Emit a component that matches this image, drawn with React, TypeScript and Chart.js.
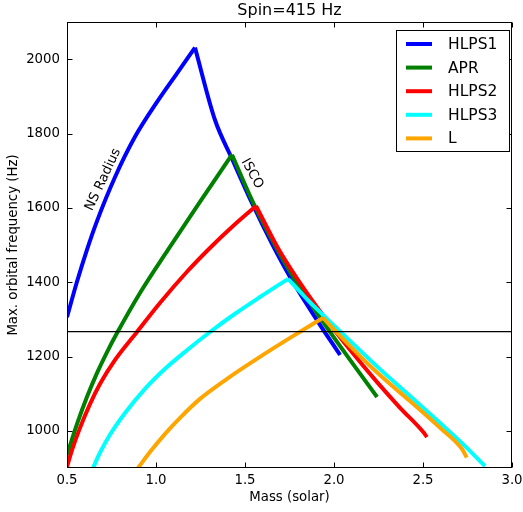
import React, { useEffect, useRef } from "react";
import { Chart, registerables } from "chart.js";

Chart.register(...registerables);

// ---- data ----
const title = "Spin=415 Hz";
const xLabel = "Mass (solar)";
const yLabel = "Max. orbital frequency (Hz)";
const xTicks = [0.5, 1.0, 1.5, 2.0, 2.5, 3.0];
const yTicks = [1000, 1200, 1400, 1600, 1800, 2000];
const refFreq = 1267;

const seriesNames = ["HLPS1", "APR", "HLPS2", "HLPS3", "L"];
const seriesColors = ["#0000ff", "#008000", "#ff0000", "#00ffff", "#ffa500"];

const hlps1Mass = [0.5, 0.556, 0.612, 0.669, 0.77, 0.882, 1.006, 1.118, 1.219, 1.331, 1.427, 1.539, 1.652, 1.753, 1.904, 2.034];
const hlps1Freq = [1306, 1401, 1487, 1565, 1683, 1791, 1885, 1962, 2031, 1837, 1732, 1613, 1503, 1414, 1298, 1204];

const aprMass = [0.5, 0.556, 0.612, 0.669, 0.725, 0.781, 0.91, 1.067, 1.247, 1.427, 1.539, 1.652, 1.753, 1.904, 2.09, 2.242];
const aprFreq = [935, 1018, 1091, 1156, 1212, 1263, 1371, 1487, 1616, 1743, 1621, 1514, 1428, 1317, 1191, 1091];

const hlps2Mass = [0.5, 0.528, 0.573, 0.629, 0.685, 0.77, 0.893, 1.022, 1.174, 1.303, 1.433, 1.562, 1.685, 1.809, 1.949, 2.09, 2.242, 2.371, 2.506, 2.522];
const hlps2Freq = [903, 948, 1008, 1072, 1126, 1191, 1266, 1344, 1428, 1492, 1551, 1605, 1492, 1398, 1304, 1218, 1131, 1062, 994, 983];

const hlps3Mass = [0.646, 0.685, 0.742, 0.826, 0.938, 1.051, 1.174, 1.303, 1.444, 1.584, 1.742, 1.837, 1.938, 2.09, 2.258, 2.427, 2.596, 2.736, 2.848];
const hlps3Freq = [900, 941, 990, 1048, 1113, 1167, 1217, 1266, 1315, 1360, 1409, 1360, 1312, 1242, 1166, 1094, 1021, 959, 905];

const lMass = [0.899, 0.966, 1.051, 1.135, 1.247, 1.399, 1.584, 1.753, 1.938, 2.09, 2.258, 2.427, 2.596, 2.719, 2.746];
const lFreq = [900, 943, 992, 1035, 1086, 1140, 1199, 1250, 1304, 1228, 1150, 1080, 1008, 951, 928];

const seriesMass = [hlps1Mass, aprMass, hlps2Mass, hlps3Mass, lMass];
const seriesFreq = [hlps1Freq, aprFreq, hlps2Freq, hlps3Freq, lFreq];

const FONT = "DejaVu Sans";

const decorPlugin = {
  id: "decor",
  afterDatasetsDraw(chart: any) {
    const ctx = chart.ctx;
    const a = chart.chartArea;
    const xs = chart.scales.x;
    const ys = chart.scales.y;
    ctx.save();
    // frame
    ctx.strokeStyle = "#000";
    ctx.lineWidth = 1;
    const L = Math.round(a.left) + 0.5;
    const R = Math.round(a.right) - 0.5;
    const T = Math.round(a.top) + 0.5;
    const B = Math.round(a.bottom) - 0.5;
    ctx.strokeRect(L, T, R - L, B - T);
    // ticks
    const tl = 5;
    ctx.beginPath();
    xTicks.forEach((v) => {
      const px = Math.round(xs.getPixelForValue(v)) + 0.5;
      ctx.moveTo(px, B);
      ctx.lineTo(px, B - tl);
      ctx.moveTo(px, T);
      ctx.lineTo(px, T + tl);
    });
    yTicks.forEach((v) => {
      const py = Math.round(ys.getPixelForValue(v)) + 0.5;
      ctx.moveTo(L, py);
      ctx.lineTo(L + tl, py);
      ctx.moveTo(R, py);
      ctx.lineTo(R - tl, py);
    });
    ctx.stroke();
    // tick labels
    ctx.fillStyle = "#000";
    ctx.font = `13.3px '${FONT}'`;
    ctx.textAlign = "center";
    ctx.textBaseline = "middle";
    xTicks.forEach((v) => {
      ctx.fillText(v.toFixed(1), xs.getPixelForValue(v), a.bottom + 13);
    });
    ctx.textAlign = "right";
    yTicks.forEach((v) => {
      ctx.fillText(String(v), a.left - 7, ys.getPixelForValue(v));
    });
    // axis labels
    ctx.textAlign = "center";
    ctx.fillText(xLabel, (a.left + a.right) / 2, 498);
    ctx.save();
    ctx.translate(14, (a.top + a.bottom) / 2);
    ctx.rotate(-Math.PI / 2);
    ctx.fillText(yLabel, 0, 0);
    ctx.restore();
    // title
    ctx.font = `16px '${FONT}'`;
    ctx.fillText(title, (a.left + a.right) / 2, 11);
    // annotations
    ctx.font = `13.3px '${FONT}'`;
    ctx.save();
    ctx.translate(xs.getPixelForValue(0.703), ys.getPixelForValue(1676));
    ctx.rotate((-65 * Math.PI) / 180);
    ctx.fillText("NS Radius", 0, 0);
    ctx.restore();
    ctx.save();
    ctx.translate(xs.getPixelForValue(1.54), ys.getPixelForValue(1692));
    ctx.rotate((61 * Math.PI) / 180);
    ctx.fillText("ISCO", 0, 0);
    ctx.restore();
    // legend
    const lx = 396.5, ly = 30.5, lw = 113, lh = 121;
    ctx.fillStyle = "#fff";
    ctx.fillRect(lx, ly, lw, lh);
    ctx.strokeStyle = "#000";
    ctx.strokeRect(lx, ly, lw, lh);
    ctx.font = `15.5px '${FONT}'`;
    ctx.textAlign = "left";
    seriesNames.forEach((n, i) => {
      const y = 44 + i * 23.6;
      ctx.strokeStyle = seriesColors[i];
      ctx.lineWidth = 4;
      ctx.beginPath();
      ctx.moveTo(406, y);
      ctx.lineTo(432, y);
      ctx.stroke();
      ctx.fillStyle = "#000";
      ctx.fillText(n, 448, y + 1);
    });
    ctx.restore();
  },
};

export default function App() {
  const ref = useRef<HTMLCanvasElement>(null);
  useEffect(() => {
    if (!ref.current) return;
    const datasets: any[] = [];
    seriesNames.forEach((n, i) => {
      const pts = seriesMass[i].map((m, j) => ({ x: m, y: seriesFreq[i][j] }));
      let peak = 0;
      pts.forEach((p, j) => {
        if (p.y > pts[peak].y) peak = j;
      });
      const branches = [pts.slice(0, peak + 1), pts.slice(peak)];
      branches.forEach((b) => {
        datasets.push({
          label: n,
          data: b,
          borderColor: seriesColors[i],
          backgroundColor: seriesColors[i],
          borderWidth: 4,
          pointRadius: 0,
          cubicInterpolationMode: "monotone",
          borderCapStyle: "butt",
          borderJoinStyle: "round",
          clip: 0,
          order: 5 - i,
          showLine: true,
          fill: false,
        });
      });
    });
    datasets.push({
      label: "ref",
      data: [
        { x: xTicks[0], y: refFreq },
        { x: xTicks[xTicks.length - 1], y: refFreq },
      ],
      borderColor: "#000",
      borderWidth: 1.2,
      pointRadius: 0,
      clip: 0,
      order: 0,
      showLine: true,
      fill: false,
    });
    const chart = new Chart(ref.current, {
      type: "scatter",
      data: { datasets },
      options: {
        responsive: false,
        animation: false,
        layout: { padding: { left: 67, right: 11, top: 22, bottom: 44 } },
        plugins: { legend: { display: false }, tooltip: { enabled: false }, title: { display: false } },
        scales: {
          x: { type: "linear", min: 0.5, max: 3.0, display: false },
          y: { type: "linear", min: 900, max: 2100, display: false },
        },
      },
      plugins: [decorPlugin],
    });
    return () => chart.destroy();
  }, []);
  return (
    <div style={{ position: "absolute", left: 0, top: 0, width: 523, height: 512, background: "#fff" }}>
      <canvas ref={ref} width={523} height={512} style={{ width: 523, height: 512 }} />
    </div>
  );
}
